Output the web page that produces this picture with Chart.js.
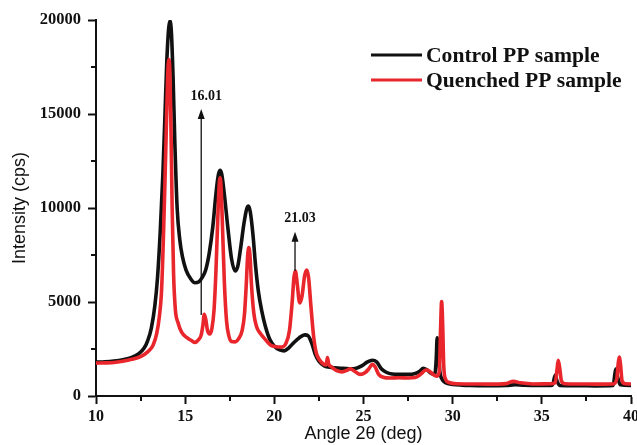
<!DOCTYPE html>
<html>
<head>
<meta charset="utf-8">
<script src="https://cdn.jsdelivr.net/npm/chart.js@4.4.0/dist/chart.umd.min.js"></script>
<style>
  html, body { margin: 0; padding: 0; background: #ffffff; }
  #wrap { width: 637px; height: 445px; position: relative; }
</style>
</head>
<body>
<div id="wrap"><canvas id="c" width="637" height="445"></canvas></div>
<script>
// ---- Data ----
const controlAngle = [10.0,10.5,11.0,11.5,12.0,12.4,12.7,12.9,13.1,13.3,13.45,13.6,13.75,13.87,13.97,14.07,14.15,14.23,14.32,14.42,14.55,14.7,14.85,15.05,15.3,15.55,15.75,15.95,16.15,16.35,16.55,16.72,16.85,16.95,17.05,17.2,17.4,17.6,17.8,17.95,18.1,18.3,18.45,18.55,18.65,18.8,18.95,19.1,19.3,19.5,19.75,20.0,20.3,20.55,20.8,21.1,21.4,21.7,21.9,22.1,22.3,22.5,22.8,23.2,23.7,24.2,24.6,24.9,25.2,25.5,25.75,26.0,26.3,26.6,27.0,27.5,27.9,28.15,28.35,28.55,28.8,29.0,29.08,29.13,29.2,29.28,29.4,29.6,30.0,30.5,31,32,33,33.5,34,35,35.6,35.75,35.85,36.0,37,38,39.0,39.1,39.15,39.25,39.4,40];
const controlIntensity = [1800,1820,1860,1930,2050,2250,2550,2950,3600,4800,6300,8700,11800,15000,17800,19500,19950,19300,17000,13500,10000,8300,7400,6700,6250,6020,6060,6300,6700,7600,9000,10700,11700,12000,11800,10700,8900,7300,6650,6900,7800,9200,9950,10100,9800,8600,6900,5600,4500,3700,3000,2650,2450,2400,2550,2850,3100,3250,3200,2800,2200,1850,1600,1520,1480,1450,1480,1600,1800,1900,1800,1450,1250,1170,1150,1150,1200,1320,1480,1400,1200,1150,2000,3100,2400,1300,900,700,620,580,560,550,560,600,570,560,580,1120,800,560,550,540,560,1200,1440,1000,600,560];

const quenchedAngle = [10.0,10.5,11.0,11.5,12.0,12.5,12.9,13.2,13.4,13.55,13.67,13.77,13.87,13.95,14.02,14.08,14.14,14.2,14.27,14.35,14.45,14.6,14.8,15.1,15.35,15.55,15.75,15.9,16.0,16.07,16.15,16.25,16.38,16.5,16.62,16.72,16.82,16.9,16.96,17.02,17.1,17.2,17.32,17.45,17.6,17.8,18.0,18.2,18.33,18.43,18.5,18.57,18.64,18.72,18.85,19.0,19.2,19.5,19.8,20.1,20.4,20.65,20.85,21.0,21.1,21.18,21.28,21.42,21.55,21.7,21.82,21.92,22.05,22.2,22.35,22.55,22.75,22.9,22.98,23.05,23.2,23.5,23.8,24.1,24.25,24.45,24.8,25.1,25.3,25.5,25.65,25.85,26.1,26.5,27.0,27.5,27.9,28.2,28.5,28.7,28.9,29.1,29.25,29.32,29.38,29.44,29.5,29.6,29.8,30.2,31,32,33,33.4,33.8,34.5,35.5,35.75,35.85,35.92,36.0,36.1,36.3,37,38,39.0,39.2,39.28,39.34,39.42,39.5,39.7,40];
const quenchedIntensity = [1750,1760,1780,1850,1950,2100,2350,2700,3300,4200,5500,8100,11500,14500,17000,17900,17300,14500,10000,6500,4600,3900,3400,3100,2950,2850,3000,3250,3800,4350,4100,3500,3300,3600,4600,6500,9200,11100,11600,11000,8800,6000,4000,3200,2900,2880,3050,3500,4400,6000,7400,7900,7400,5900,4400,3700,3350,3000,2700,2620,2600,2800,3500,5000,6300,6650,6000,4950,5300,6400,6700,6300,4800,3200,2300,1900,1700,1650,2050,1700,1550,1350,1280,1380,1450,1350,1150,1250,1450,1680,1550,1150,1000,960,970,960,980,1150,1380,1320,1150,1050,1300,3500,5020,3800,1600,900,720,650,640,630,660,780,700,640,650,700,1400,1900,1500,800,650,640,630,640,900,1700,2070,1600,800,650,640];

const seriesNames = ['Control PP sample', 'Quenched PP sample'];
const xTickValues = [10, 15, 20, 25, 30, 35, 40];
const yTickValues = [0, 5000, 10000, 15000, 20000];
const xMinorTicks = [12.5, 17.5, 22.5, 27.5, 32.5, 37.5];
const yMinorTicks = [2500, 7500, 12500, 17500];

const markLabels = ['16.01', '21.03'];
const markAngle = [15.9, 21.16];
const markTop = [15270, 8740];
const markBottom = [4310, 6650];

const toPts = (xs, ys) => xs.map((x, i) => ({ x: x, y: ys[i] }));

const extras = {
  id: 'extras',
  afterDraw(chart) {
    const ctx = chart.ctx;
    const xs = chart.scales.x, ys = chart.scales.y;
    const area = chart.chartArea;
    ctx.save();
    // minor ticks
    ctx.strokeStyle = '#111';
    ctx.lineWidth = 2;
    xMinorTicks.forEach(v => {
      const px = Math.round(xs.getPixelForValue(v));
      ctx.beginPath(); ctx.moveTo(px, area.bottom); ctx.lineTo(px, area.bottom + 5); ctx.stroke();
    });
    yMinorTicks.forEach(v => {
      const py = Math.round(ys.getPixelForValue(v));
      ctx.beginPath(); ctx.moveTo(area.left, py); ctx.lineTo(area.left - 5, py); ctx.stroke();
    });
    // annotation arrows
    ctx.lineWidth = 1.3;
    ctx.fillStyle = '#111';
    ctx.strokeStyle = '#111';
    markLabels.forEach((lab, i) => {
      const px = xs.getPixelForValue(markAngle[i]);
      const pt = ys.getPixelForValue(markTop[i]);
      const pb = ys.getPixelForValue(markBottom[i]);
      ctx.beginPath(); ctx.moveTo(px, pb); ctx.lineTo(px, pt + 6); ctx.stroke();
      ctx.beginPath(); ctx.moveTo(px, pt); ctx.lineTo(px - 3.5, pt + 10); ctx.lineTo(px + 3.5, pt + 10); ctx.closePath(); ctx.fill();
      ctx.font = 'bold 14px "Liberation Serif", "DejaVu Serif", serif';
      ctx.textAlign = 'center';
      ctx.textBaseline = 'middle';
      ctx.fillText(lab, px + 5, pt - 13);
    });
    // legend
    const ds = chart.data.datasets;
    ctx.font = 'bold 21.6px "Liberation Serif", "DejaVu Serif", serif';
    ctx.textAlign = 'left';
    ctx.textBaseline = 'middle';
    const legY = [55, 80];
    ds.forEach((d, i) => {
      ctx.strokeStyle = d.borderColor;
      ctx.lineWidth = 3;
      ctx.beginPath(); ctx.moveTo(371, legY[i]); ctx.lineTo(422, legY[i]); ctx.stroke();
      ctx.fillStyle = '#111';
      ctx.fillText(d.label, 426, legY[i] + 1);
    });
    ctx.restore();
  }
};

new Chart(document.getElementById('c'), {
  type: 'line',
  data: {
    datasets: [
      {
        label: seriesNames[0],
        data: toPts(controlAngle, controlIntensity),
        borderColor: '#111111',
        borderWidth: 3.6,
        pointRadius: 0,
        cubicInterpolationMode: 'monotone',
        order: 2
      },
      {
        label: seriesNames[1],
        data: toPts(quenchedAngle, quenchedIntensity),
        borderColor: '#e8262b',
        borderWidth: 3.6,
        pointRadius: 0,
        cubicInterpolationMode: 'monotone',
        order: 1
      }
    ]
  },
  options: {
    responsive: false,
    animation: false,
    layout: { padding: { top: 20, right: 6, left: 0, bottom: 0 } },
    plugins: { legend: { display: false }, tooltip: { enabled: false } },
    scales: {
      x: {
        type: 'linear',
        min: 10, max: 40,
        afterBuildTicks: (s) => { s.ticks = xTickValues.map(v => ({ value: v })); },
        afterFit: (s) => { s.height = 49; s.paddingLeft = 0; s.paddingRight = 0; },
        ticks: {
          color: '#111',
          font: { family: '"Liberation Serif", "DejaVu Serif", serif', size: 16, weight: 'bold' },
          padding: 3,
          maxRotation: 0,
          autoSkip: false,
          callback: (v) => String(v)
        },
        grid: { drawOnChartArea: false, drawTicks: true, tickLength: 8, tickColor: '#111', tickWidth: 2 },
        border: { display: true, color: '#111', width: 2 },
        title: {
          display: true,
          text: 'Angle 2θ (deg)',
          color: '#111',
          font: { family: '"Liberation Sans", Arial, sans-serif', size: 18 },
          padding: { top: 0, bottom: 0 }
        }
      },
      y: {
        type: 'linear',
        min: 0, max: 20000,
        afterBuildTicks: (s) => { s.ticks = yTickValues.map(v => ({ value: v })); },
        afterFit: (s) => { s.width = 96; s.paddingTop = 0; s.paddingBottom = 0; },
        ticks: {
          color: '#111',
          font: { family: '"Liberation Serif", "DejaVu Serif", serif', size: 16.5, weight: 'bold' },
          padding: 7,
          callback: (v) => String(v)
        },
        grid: { drawOnChartArea: false, drawTicks: true, tickLength: 8, tickColor: '#111', tickWidth: 2 },
        border: { display: true, color: '#111', width: 2 },
        title: {
          display: true,
          text: 'Intensity (cps)',
          color: '#111',
          font: { family: '"Liberation Sans", Arial, sans-serif', size: 18 },
          padding: { top: 9, bottom: 0 }
        }
      }
    }
  },
  plugins: [extras]
});
</script>
</body>
</html>
